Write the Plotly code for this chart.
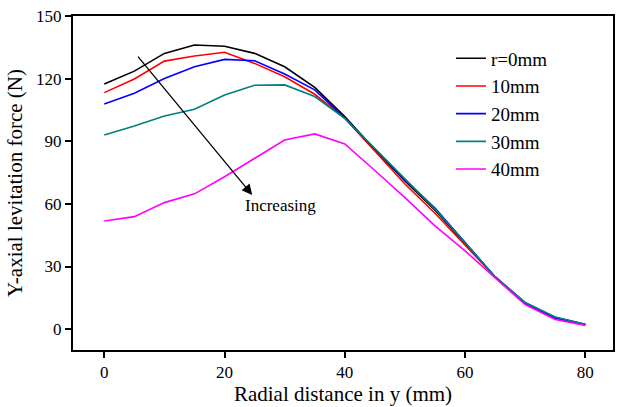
import plotly.graph_objects as go

x_mm = [0, 5, 10, 15, 20, 25, 30, 35, 40, 45, 50, 55, 60, 65, 70, 75, 80]
series_names = ["r=0mm", "10mm", "20mm", "30mm", "40mm"]
r0 = [117.4, 123.6, 132.1, 136.1, 135.5, 132.1, 125.7, 115.8, 101.8, 86.0, 71.0, 57.0, 41.0, 25.0, 12.5, 5.5, 2.2]
r10 = [113.3, 119.8, 128.4, 130.8, 132.6, 127.3, 120.9, 112.5, 101.0, 85.0, 69.5, 55.5, 40.5, 25.0, 12.5, 5.3, 2.1]
r20 = [107.9, 113.0, 120.1, 125.7, 129.2, 128.6, 122.2, 114.6, 101.0, 86.5, 71.5, 58.0, 41.5, 25.0, 12.5, 5.5, 2.2]
r30 = [93.0, 97.3, 102.1, 105.3, 112.2, 116.8, 117.0, 111.4, 101.0, 86.5, 71.5, 57.5, 41.5, 25.0, 12.8, 5.8, 2.3]
r40 = [51.8, 53.9, 60.6, 64.8, 73.0, 81.9, 90.6, 93.5, 88.7, 76.0, 63.0, 49.5, 37.5, 24.5, 11.8, 4.6, 1.8]
colors = ["#000000", "#FF0000", "#0000FF", "#008080", "#FF00FF"]

x_tick_step = 20
y_tick_step = 30

font_family = "Liberation Serif"

fig = go.Figure()
for name, vals, col in zip(series_names, [r0, r10, r20, r30, r40], colors):
    fig.add_trace(go.Scatter(x=x_mm, y=vals, mode="lines", name=name,
                             line=dict(color=col, width=1.6)))

# arrow annotation "Increasing"
fig.add_annotation(x=24.6, y=64.3, ax=5.4, ay=131.3, xref="x", yref="y",
                   axref="x", ayref="y", text="", showarrow=True,
                   arrowhead=2, arrowsize=1.6, arrowwidth=1.3, arrowcolor="black")
fig.add_annotation(x=29.3, y=59.2, xref="x", yref="y", text="Increasing",
                   showarrow=False, font=dict(family=font_family, size=17, color="black"))

axis_common = dict(showline=True, linecolor="#000000", linewidth=2, mirror=True,
                   ticks="outside", ticklen=6, tickwidth=2, tickcolor="#000000",
                   showgrid=False, zeroline=False, tickmode="linear", tick0=0,
                   tickfont=dict(family=font_family, size=17, color="#000000"))

fig.update_xaxes(range=[-5.2, 84.6], dtick=x_tick_step,
                 title=dict(text="Radial distance in y (mm)", standoff=2,
                            font=dict(family=font_family, size=21, color="black")),
                 **axis_common)
fig.update_yaxes(range=[-10, 150], dtick=y_tick_step,
                 title=dict(text="Y-axial levitation force (N)", standoff=8,
                            font=dict(family=font_family, size=21, color="black")),
                 **axis_common)

fig.update_layout(
    template="simple_white",
    width=617, height=407,
    margin=dict(l=73, r=2, t=16, b=57),
    paper_bgcolor="white", plot_bgcolor="white",
    font=dict(family=font_family, color="black"),
    legend=dict(x=0.70, y=0.93, xanchor="left", yanchor="top",
                bgcolor="rgba(0,0,0,0)", borderwidth=0,
                font=dict(family=font_family, size=19, color="black"),
                tracegroupgap=0),
)

fig.write_html("out.html", config={"displayModeBar": False},
               post_script="document.body.style.margin='0px';")
